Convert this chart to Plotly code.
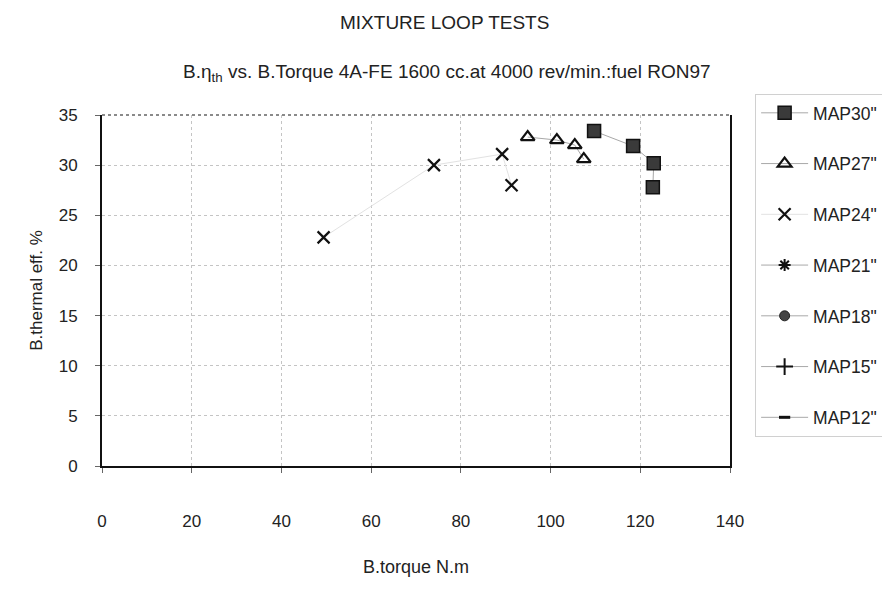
import plotly.graph_objects as go

# Data
map30_x = [109.7, 118.4, 123.0, 122.8]
map30_y = [33.4, 31.9, 30.2, 27.8]
map27_x = [94.9, 101.4, 105.4, 107.4]
map27_y = [32.8, 32.5, 32.0, 30.6]
map24_x = [49.4, 74.0, 89.2, 91.3]
map24_y = [22.8, 30.0, 31.1, 28.0]
x_ticks = [0, 20, 40, 60, 80, 100, 120, 140]
y_ticks = [0, 5, 10, 15, 20, 25, 30, 35]

FONT = "Liberation Sans, Arial, sans-serif"

fig = go.Figure()

def add(name, xs, ys, marker, group, lcolor="#a8a8a8"):
    fig.add_trace(go.Scatter(
        x=xs, y=ys, name=name, mode="lines+markers",
        line=dict(color=lcolor, width=1), marker=marker, legendgroup=group,
    ))

add('MAP30"', map30_x, map30_y,
    dict(symbol="square", size=13, color="#3a3a3a", line=dict(color="#111", width=1.5)), "g1")
add('MAP27"', map27_x, map27_y,
    dict(symbol="triangle-up-open", size=12, color="#111", line=dict(color="#111", width=2.2)), "g2")
add('MAP24"', map24_x, map24_y,
    dict(symbol="x-thin-open", size=12, color="#111", line=dict(color="#111", width=2.2)), "g3",
    lcolor="#e2e2e2")
add('MAP21"', [None], [None],
    dict(symbol="asterisk-open", size=10, color="#111", line=dict(color="#111", width=2)), "g4")
add('MAP18"', [None], [None],
    dict(symbol="circle", size=10, color="#444", line=dict(color="#222", width=1)), "g5")
add('MAP15"', [None], [None],
    dict(symbol="cross-thin-open", size=12, color="#111", line=dict(color="#111", width=2)), "g6")
add('MAP12"', [None], [None],
    dict(symbol="line-ew-open", size=8, color="#111", line=dict(color="#111", width=3)), "g7")

fig.update_layout(
    width=882, height=593,
    margin=dict(l=94, r=160, t=107, b=135, autoexpand=False),
    paper_bgcolor="white", plot_bgcolor="white",
    font=dict(family=FONT, color="#222", size=17),
    showlegend=True,
    legend=dict(
        x=1.04, xanchor="left", y=1.06, yanchor="top",
        bordercolor="#d0d0d0", borderwidth=1,
        font=dict(size=17.5, family=FONT, color="#222"),
        tracegroupgap=25, itemwidth=47, maxheight=600,
    ),
    xaxis=dict(
        range=[0, 140], tickvals=x_ticks, showgrid=True,
        gridcolor="#c4c4c4", griddash="dot", gridwidth=1,
        showline=True, linecolor="#111", linewidth=2,
        ticks="outside", ticklen=5, tickcolor="#666",
        ticklabelstandoff=34, zeroline=False,
        title=dict(text="B.torque N.m", font=dict(size=18, family=FONT), standoff=30),
        tickfont=dict(size=17),
    ),
    yaxis=dict(
        range=[0, 35], tickvals=y_ticks, showgrid=True,
        gridcolor="#c4c4c4", griddash="dot", gridwidth=1,
        showline=True, linecolor="#111", linewidth=2, mirror=True,
        ticks="outside", ticklen=5, tickcolor="#666",
        ticklabelstandoff=14, zeroline=False,
        title=dict(text="B.thermal eff. %", font=dict(size=17, family=FONT), standoff=12),
        tickfont=dict(size=17),
    ),
    shapes=[dict(type="line", xref="paper", yref="paper", x0=0, x1=1, y0=1, y1=1,
                 line=dict(color="#8a8a8a", width=2, dash="dot"))],
    annotations=[
        dict(text="MIXTURE LOOP TESTS", xref="paper", yref="paper",
             x=(444 - 102) / 628, y=(466 - 22) / 351, xanchor="center", yanchor="middle",
             showarrow=False, font=dict(size=19, family=FONT, color="#222")),
        dict(text="B.η<sub>th</sub> vs. B.Torque 4A-FE 1600 cc.at 4000 rev/min.:fuel RON97",
             xref="paper", yref="paper",
             x=(447 - 102) / 628, y=(466 - 73) / 351, xanchor="center", yanchor="middle",
             showarrow=False, font=dict(size=19, family=FONT, color="#222")),
    ],
)

fig.write_html("out.html")
